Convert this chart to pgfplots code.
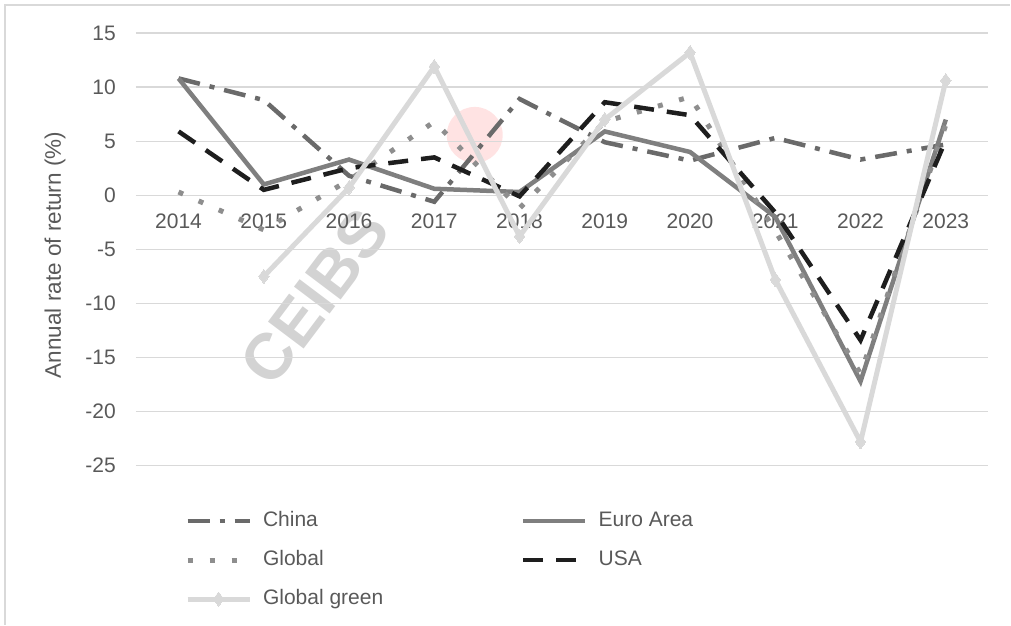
\documentclass[border=0pt]{standalone}
\usepackage{fontspec}
\setmainfont{Liberation Sans}
\setsansfont{Liberation Sans}
\usepackage{pgfplots}
\pgfplotsset{compat=1.18}
\definecolor{chinaC}{HTML}{6A6A6A}
\definecolor{euroC}{HTML}{7F7F7F}
\definecolor{globalC}{HTML}{8E8E8E}
\definecolor{usaC}{HTML}{1E1E1E}
\definecolor{greenC}{HTML}{D9D9D9}
\definecolor{gridC}{HTML}{D9D9D9}
\definecolor{txtC}{HTML}{595959}
\begin{document}
\begin{tikzpicture}[x=1pt,y=1pt]
\path (0,0) rectangle (1011,625);
\draw[gridC, line width=1.2pt] (5,0) -- (5,620) -- (1011,620);
% watermark
\node[rotate=53, text=gray, opacity=0.35, font=\bfseries\fontsize{65}{70}\selectfont] at (315,328) {CEIBS};
\fill[red!60, opacity=0.18] (475,490) circle (28);
\begin{axis}[
  at={(136pt,159pt)}, anchor=south west,
  scale only axis, width=853pt, height=433pt,
  xmin=-0.5, xmax=9.5, ymin=-25, ymax=15,
  xtick={0,...,9},
  xticklabels={2014,2015,2016,2017,2018,2019,2020,2021,2022,2023},
  ytick={-25,-20,...,15},
  ymajorgrids, grid style={gridC, line width=1.3pt},
  axis line style={draw=none},
  major tick length=0pt,
  /pgf/number format/assume math mode=true,
  tick label style={text=txtC, font=\fontsize{21}{25}\selectfont},
  x tick label style={anchor=center, yshift=245pt},
  y tick label style={anchor=east, inner sep=0pt, xshift=-20pt},
  ylabel={Annual rate of return (\%)},
  ylabel style={at={(axis description cs:-0.095,0.487)}, anchor=center, text=txtC, font=\fontsize{22.5}{26}\selectfont},
  legend columns=2,
  legend cell align=left,
  legend style={at={(axis description cs:0.0575,-0.1)}, anchor=north west, draw=none, fill=none,
    inner sep=0pt, row sep=15pt,
    font=\fontsize{21}{25}\selectfont, text=txtC,
    nodes={inner sep=3pt, text height=14pt, text depth=4pt},
    /tikz/every odd column/.style={column sep=8pt},
    /tikz/every even column/.style={column sep=135pt}},
  legend image code/.code={\draw[mark repeat=2,mark phase=2,#1] plot coordinates {(0pt,0pt)(31pt,0pt)(62pt,0pt)};},
]
\addplot[chinaC, line width=4.5pt, dash pattern=on 22pt off 10pt on 5pt off 10pt] coordinates {
(0,10.8) (1,8.8) (2,1.8) (3,-0.6) (4,8.9) (5,4.9) (6,3.2) (7,5.3) (8,3.3) (9,4.7)};
\addlegendentry{China}
\addplot[euroC, line width=4.5pt] coordinates {
(0,10.8) (1,1.0) (2,3.3) (3,0.6) (4,0.3) (5,5.9) (6,4.0) (7,-2.0) (8,-17.2) (9,7.0)};
\addlegendentry{Euro Area}
\addplot[globalC, line width=5pt, dash pattern=on 5pt off 17pt] coordinates {
(0,0.3) (1,-3.2) (2,1.4) (3,6.8) (4,-1.2) (5,6.8) (6,9.1) (7,-3.3) (8,-16.5) (9,6.5)};
\addlegendentry{Global}
\addplot[usaC, line width=4.5pt, dash pattern=on 20pt off 13pt] coordinates {
(0,5.9) (1,0.5) (2,2.5) (3,3.5) (4,-0.1) (5,8.6) (6,7.4) (7,-1.6) (8,-13.4) (9,5.1)};
\addlegendentry{USA}
\addplot[greenC, line width=5pt, mark=diamond*, mark size=7pt, mark options={solid, fill=greenC, draw=greenC, line width=0pt}] coordinates {
(1,-7.5) (2,0.7) (3,11.9) (4,-3.8) (5,7.0) (6,13.2) (7,-7.8) (8,-22.8) (9,10.6)};
\addlegendentry{Global green}
\end{axis}
\end{tikzpicture}
\end{document}
